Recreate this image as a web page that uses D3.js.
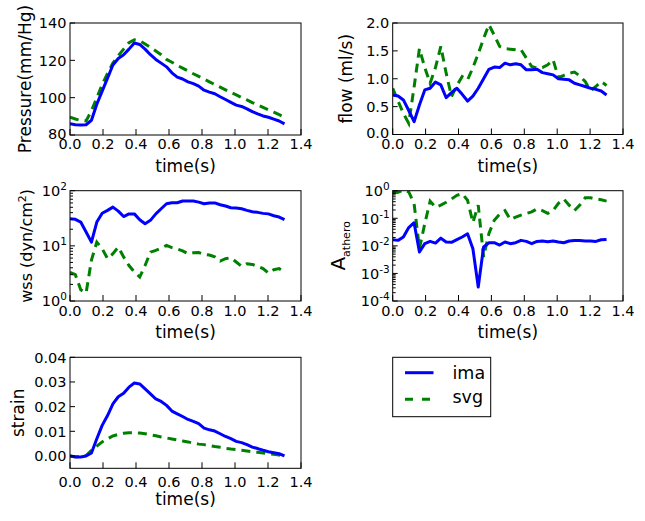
<!DOCTYPE html>
<html><head><meta charset="utf-8">
<script src="https://cdn.jsdelivr.net/npm/d3@7"></script>
<style>
html,body{margin:0;padding:0;background:#fff;}
svg{display:block;font-family:"DejaVu Sans",sans-serif;}
</style></head>
<body><svg id="c" width="645" height="521"></svg>
<script>
const time = [0,0.0325,0.065,0.0975,0.13,0.1625,0.195,0.2275,0.26,0.2925,0.325,0.3575,0.39,0.4225,0.455,0.4875,0.52,0.5525,0.585,0.6175,0.65,0.6825,0.715,0.7475,0.78,0.8125,0.845,0.8775,0.91,0.9425,0.975,1.0075,1.04,1.0725,1.105,1.1375,1.17,1.2025,1.235,1.2675,1.3];
const seriesNames = ["ima","svg"];
const xTicks = [0,0.2,0.4,0.6,0.8,1.0,1.2,1.4];

const pressureIma = [86.1,85.5,85.3,85.5,87.9,96.5,103.5,110.5,117.5,121,123,126,129.3,128.5,126,123,120.5,118.5,116.5,113.3,111,110,108.5,107.5,106.2,104,103,102.1,100.5,99,97.5,96,95.3,94,92.5,91.3,90.2,89.5,88.5,87.5,86];
const pressureSvg = [89.6,88.6,87.8,87.5,93,100,107,113,118.5,122.5,126,129.5,131,130.5,128.8,127,125,123,120.5,119,117.3,115.8,114.3,112.8,111.4,110,108.5,107,105.6,104.2,102.8,101.5,100.1,98.8,97.4,96.1,94.8,93.5,92.2,90.9,89.6];
const pressureTicks = [80,100,120,140];

const flowIma = [0.71,0.69,0.62,0.43,0.23,0.53,0.8,0.83,0.94,0.89,0.66,0.75,0.83,0.72,0.6,0.69,0.83,1.0,1.17,1.21,1.2,1.28,1.25,1.27,1.25,1.16,1.16,1.17,1.11,1.09,1.07,1.0,0.99,0.98,0.92,0.89,0.86,0.83,0.81,0.78,0.71];
const flowSvg = [0.83,0.6,0.38,0.2,0.85,1.54,1.2,0.92,1.2,1.58,1.1,0.68,0.88,1.04,0.98,1.2,1.45,1.72,1.97,1.78,1.58,1.54,1.53,1.52,1.52,1.37,1.22,1.19,1.2,1.25,1.34,1.02,1.06,1.1,1.12,1.05,0.95,0.79,0.86,0.95,0.88];
const flowTicks = [0,0.5,1.0,1.5,2.0];

const wssIma = [31,30.3,27,17.8,11.7,27,39,44,50.4,42.7,34,38,38,29.8,25.2,29,38,47,58,60.6,60.6,65,65,65,62,58,60,60,55.7,52.7,49,48.5,47,44,41.6,40.5,38.8,38,35.2,33.3,29.8];
const wssSvg = [3.3,3.0,1.6,1.4,5.5,11.7,8.9,5.85,7.2,9.5,6.3,4.4,3.36,2.72,4.4,7.7,8.3,9.1,10.2,9.3,8.8,8.1,7.2,7.5,7.6,7.0,6.8,6.3,5.3,5.85,6.1,5.1,4.25,4.75,4.6,4.25,3.86,3.2,3.7,3.86,3.36];
const wssTickExp = [0,1,2];

const athIma = [0.0167,0.0158,0.021,0.046,0.069,0.006,0.012,0.0145,0.0126,0.019,0.0138,0.0134,0.0167,0.021,0.0275,0.0079,0.00032,0.0091,0.013,0.013,0.0107,0.0138,0.012,0.013,0.0158,0.0145,0.012,0.0145,0.015,0.014,0.015,0.0138,0.013,0.015,0.0155,0.0155,0.015,0.015,0.0145,0.0167,0.017];
const athSvg = [0.82,0.88,1.05,0.9,0.34,0.008,0.064,0.42,0.25,0.3,0.38,0.5,0.68,0.78,0.45,0.07,0.3,0.004,0.028,0.085,0.14,0.19,0.09,0.11,0.13,0.15,0.17,0.22,0.19,0.15,0.19,0.35,0.5,0.3,0.19,0.3,0.55,0.55,0.5,0.47,0.42];
const athTickExp = [-4,-3,-2,-1,0];

const strainIma = [0,-0.0004,-0.0004,0,0.0012,0.007,0.0124,0.0164,0.0211,0.024,0.0254,0.0279,0.0296,0.0292,0.0272,0.0252,0.0231,0.0221,0.0205,0.0182,0.0171,0.016,0.0148,0.014,0.0131,0.0113,0.0106,0.0101,0.009,0.0079,0.007,0.0059,0.0054,0.0046,0.0036,0.003,0.0023,0.0017,0.0013,0.0009,0];
const strainSvg = [0,-0.0003,-0.0003,0.0002,0.0023,0.004,0.0057,0.007,0.0081,0.0087,0.0092,0.0094,0.0094,0.0093,0.009,0.0086,0.0082,0.0077,0.0073,0.0069,0.0065,0.0061,0.0057,0.0052,0.0048,0.0046,0.0042,0.0038,0.0035,0.0031,0.0028,0.0026,0.0023,0.002,0.0017,0.0015,0.0012,0.0009,0.0007,0.0004,0];
const strainTicks = [0,0.01,0.02,0.03,0.04];

const BLUE = "#0000ff", GREEN = "#008000";
const svg = d3.select("#c");
let clipId = 0;

function panel(o){
  const x = d3.scaleLinear().domain([0,1.4]).range([o.left,o.right]);
  const y = (o.log ? d3.scaleLog() : d3.scaleLinear()).domain(o.domain).range([o.bottom,o.top]);
  const g = svg.append("g");
  const id = "clip"+(clipId++);
  g.append("clipPath").attr("id",id).append("rect")
    .attr("x",o.left).attr("y",o.top).attr("width",o.right-o.left).attr("height",o.bottom-o.top);
  const line = d3.line().x((d,i)=>x(time[i])).y(d=>y(d));
  const lg = g.append("g").attr("clip-path","url(#"+id+")");
  lg.append("path").datum(o.svgData).attr("d",line).attr("fill","none")
    .attr("stroke",GREEN).attr("stroke-width",3).attr("stroke-dasharray","9,6");
  lg.append("path").datum(o.imaData).attr("d",line).attr("fill","none")
    .attr("stroke",BLUE).attr("stroke-width",3).attr("stroke-linejoin","round");
  g.append("rect").attr("x",o.left).attr("y",o.top).attr("width",o.right-o.left).attr("height",o.bottom-o.top)
    .attr("fill","none").attr("stroke","#000").attr("stroke-width",1);
  xTicks.forEach(t=>{
    g.append("line").attr("x1",x(t)).attr("x2",x(t)).attr("y1",o.bottom).attr("y2",o.bottom-6).attr("stroke","#000");
    g.append("text").attr("x",x(t)).attr("y",o.bottom+o.xlabPad).attr("text-anchor","middle")
      .attr("font-size",14.5).text(d3.format(".1f")(t));
  });
  if(o.log){
    const exps = o.exps;
    for(let e=exps[0]; e<exps[exps.length-1]; e++){
      for(let m=2;m<10;m++){
        const v = m*Math.pow(10,e);
        g.append("line").attr("x1",o.left).attr("x2",o.left+3).attr("y1",y(v)).attr("y2",y(v)).attr("stroke","#000");
      }
    }
    exps.forEach(e=>{
      const v = Math.pow(10,e);
      g.append("line").attr("x1",o.left).attr("x2",o.left+5).attr("y1",y(v)).attr("y2",y(v)).attr("stroke","#000");
      const tx = g.append("text").attr("x",o.left-3).attr("y",y(v)+5.3).attr("text-anchor","end").attr("font-size",14.5);
      tx.append("tspan").text("10");
      tx.append("tspan").attr("dy",-6).attr("font-size",10.5).text(e<0 ? "-"+(-e) : String(e));
    });
  } else {
    o.yticks.forEach((v,i)=>{
      g.append("line").attr("x1",o.left).attr("x2",o.left+5).attr("y1",y(v)).attr("y2",y(v)).attr("stroke","#000");
      g.append("text").attr("x",o.left-3.5).attr("y",y(v)+5.3-(o.lowShift && i===0 ? o.lowShift : 0)).attr("text-anchor","end")
        .attr("font-size",14.5).text(d3.format(o.fmt)(v));
    });
  }
  g.append("text").attr("x",(o.left+o.right)/2).attr("y",o.bottom+37).attr("text-anchor","middle")
    .attr("font-size",17).text("time(s)");
  const cy = (o.top+o.bottom)/2;
  const yl = g.append("text").attr("transform","translate("+o.ylabX+","+cy+") rotate(-90)")
    .attr("text-anchor","middle").attr("font-size",17);
  o.ylab(yl);
}

panel({left:70,right:301,top:23,bottom:135,domain:[80,140],yticks:pressureTicks,fmt:"d",lowShift:1.5,
  imaData:pressureIma,svgData:pressureSvg,xlabPad:14,ylabX:31,
  ylab:t=>t.text("Pressure(mm/Hg)")});
panel({left:392.7,right:623,top:23,bottom:134.5,domain:[0,2],yticks:flowTicks,fmt:".1f",lowShift:1.5,
  imaData:flowIma,svgData:flowSvg,xlabPad:14,ylabX:352,
  ylab:t=>t.text("flow (ml/s)")});
panel({left:70,right:301,top:190.7,bottom:301,domain:[1,100],log:true,exps:wssTickExp,
  imaData:wssIma,svgData:wssSvg,xlabPad:14.5,ylabX:32,
  ylab:t=>{t.attr("font-size",16);t.append("tspan").text("wss (dyn/cm");
    t.append("tspan").attr("dy",-6).attr("font-size",11).text("2");
    t.append("tspan").attr("dy",6).text(")");}});
panel({left:392.7,right:623,top:190.7,bottom:301,domain:[1e-4,1],log:true,exps:athTickExp,
  imaData:athIma,svgData:athSvg,xlabPad:14.5,ylabX:345,
  ylab:t=>{t.attr("font-size",20);t.append("tspan").text("A");
    t.append("tspan").attr("dy",5).attr("font-size",11).text("athero");}});
panel({left:70,right:301,top:357.3,bottom:468.3,domain:[-0.005,0.04],yticks:strainTicks,fmt:".2f",
  imaData:strainIma,svgData:strainSvg,xlabPad:18.3,ylabX:24,
  ylab:t=>t.text("strain")});

const leg = svg.append("g");
leg.append("rect").attr("x",392.7).attr("y",357.3).attr("width",98).attr("height",59.4)
  .attr("fill","#fff").attr("stroke","#000").attr("stroke-width",1);
const legColors = [BLUE,GREEN], legDash = [null,"8,9"], legY = [372.7,399.3], legTextY = [379.2,402.5];
seriesNames.forEach((n,i)=>{
  const l = leg.append("line").attr("x1",405).attr("x2",433.5).attr("y1",legY[i]).attr("y2",legY[i])
    .attr("stroke",legColors[i]).attr("stroke-width",3);
  if(legDash[i]) l.attr("stroke-dasharray",legDash[i]);
  leg.append("text").attr("x",452.5).attr("y",legTextY[i]).attr("font-size",17.5).text(n);
});
</script></body></html>
